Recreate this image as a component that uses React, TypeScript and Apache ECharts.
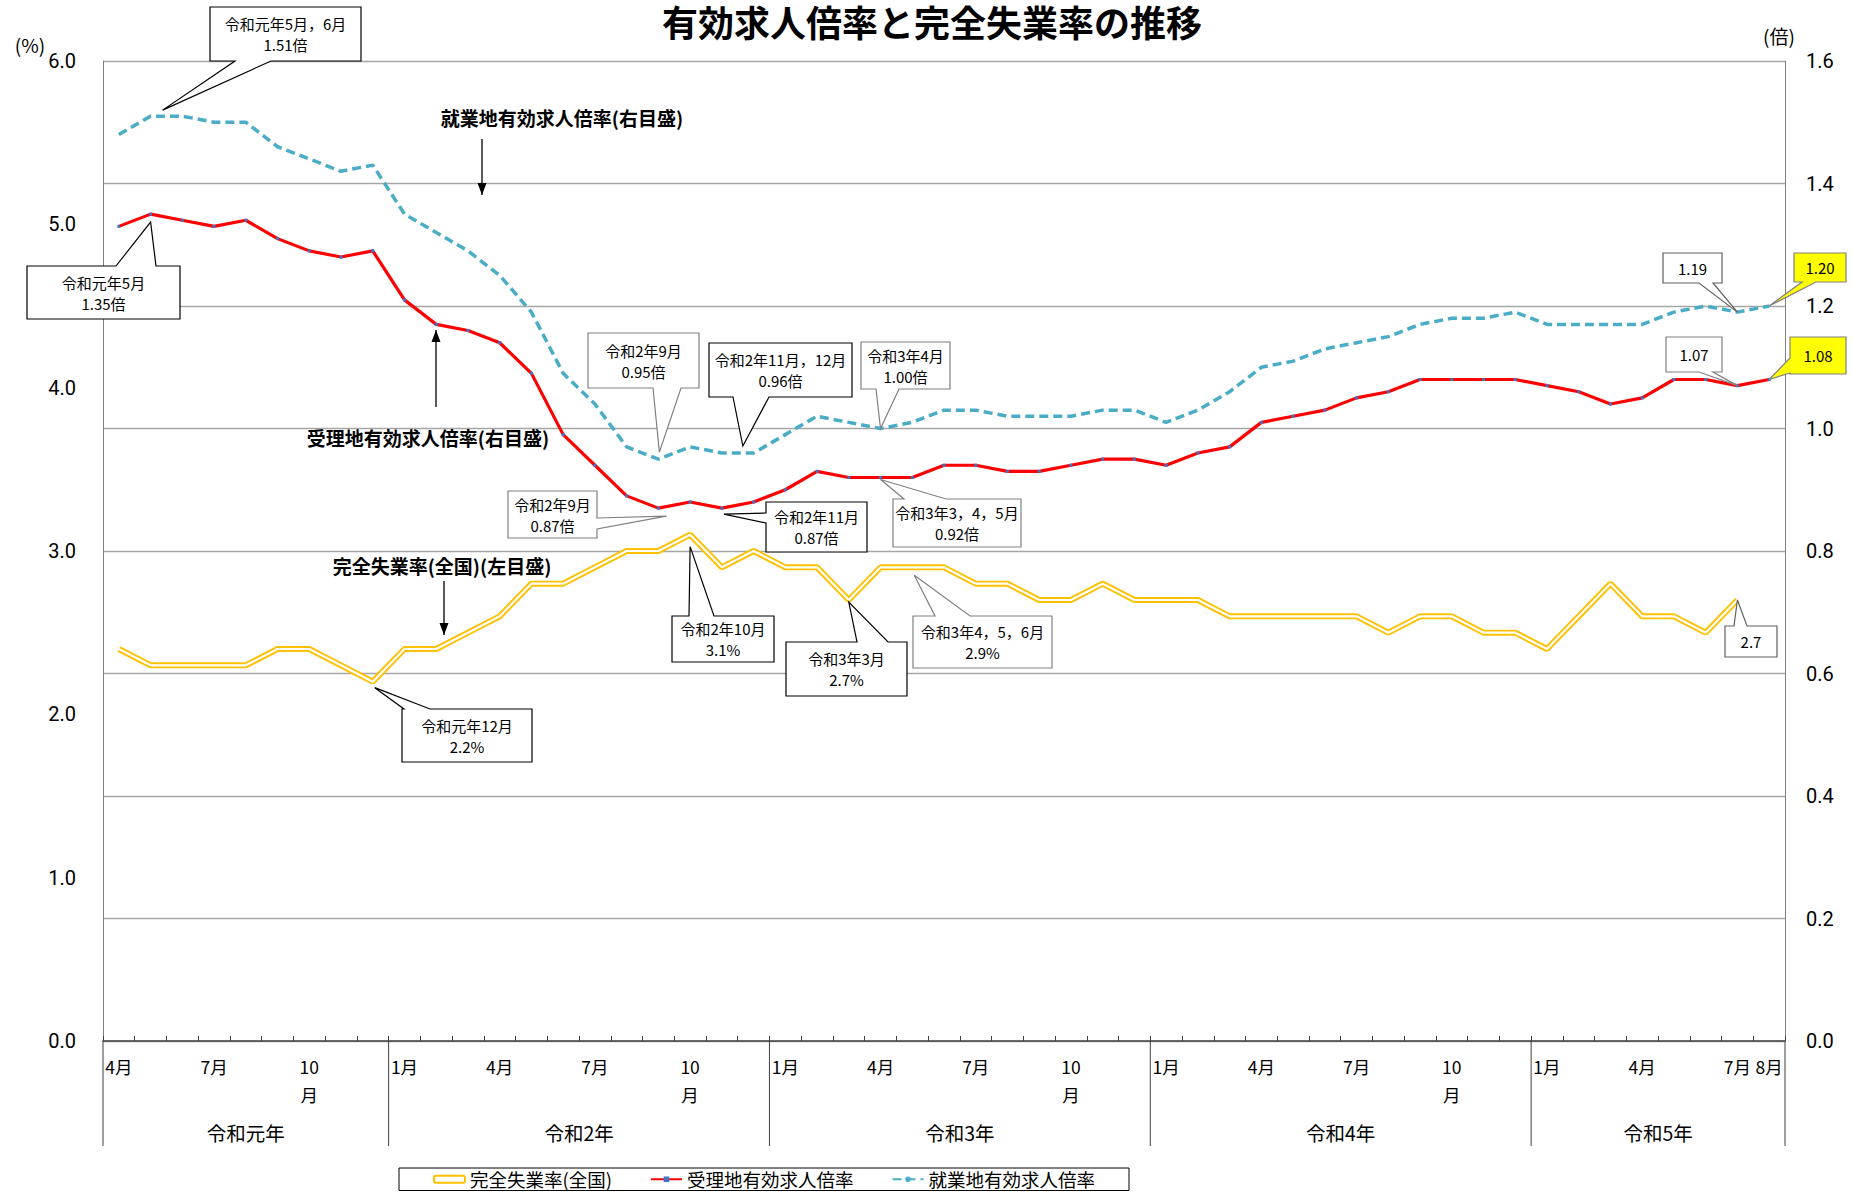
import React, { useEffect, useRef } from "react";
import * as echarts from "echarts";

// ---- data ----
const monthLabels = [
  "4月", "5月", "6月", "7月", "8月", "9月", "10月", "11月", "12月",
  "1月", "2月", "3月", "4月", "5月", "6月", "7月", "8月", "9月", "10月", "11月", "12月",
  "1月", "2月", "3月", "4月", "5月", "6月", "7月", "8月", "9月", "10月", "11月", "12月",
  "1月", "2月", "3月", "4月", "5月", "6月", "7月", "8月", "9月", "10月", "11月", "12月",
  "1月", "2月", "3月", "4月", "5月", "6月", "7月", "8月",
];
const yearNames = ["令和元年", "令和2年", "令和3年", "令和4年", "令和5年"];
const yearMonthCounts = [9, 12, 12, 12, 8];

// 完全失業率(全国) %  (left axis) — through R5 July
const unemployment = [
  2.4, 2.3, 2.3, 2.3, 2.3, 2.4, 2.4, 2.3, 2.2,
  2.4, 2.4, 2.5, 2.6, 2.8, 2.8, 2.9, 3.0, 3.0, 3.1, 2.9, 3.0,
  2.9, 2.9, 2.7, 2.9, 2.9, 2.9, 2.8, 2.8, 2.7, 2.7, 2.8, 2.7,
  2.7, 2.7, 2.6, 2.6, 2.6, 2.6, 2.6, 2.5, 2.6, 2.6, 2.5, 2.5,
  2.4, 2.6, 2.8, 2.6, 2.6, 2.5, 2.7,
];
// 受理地有効求人倍率 (right axis)
const ratioReceipt = [
  1.33, 1.35, 1.34, 1.33, 1.34, 1.31, 1.29, 1.28, 1.29,
  1.21, 1.17, 1.16, 1.14, 1.09, 0.99, 0.94, 0.89, 0.87, 0.88, 0.87, 0.88,
  0.90, 0.93, 0.92, 0.92, 0.92, 0.94, 0.94, 0.93, 0.93, 0.94, 0.95, 0.95,
  0.94, 0.96, 0.97, 1.01, 1.02, 1.03, 1.05, 1.06, 1.08, 1.08, 1.08, 1.08,
  1.07, 1.06, 1.04, 1.05, 1.08, 1.08, 1.07, 1.08,
];
// 就業地有効求人倍率 (right axis)
const ratioWorkplace = [
  1.48, 1.51, 1.51, 1.50, 1.50, 1.46, 1.44, 1.42, 1.43,
  1.35, 1.32, 1.29, 1.25, 1.19, 1.09, 1.04, 0.97, 0.95, 0.97, 0.96, 0.96,
  0.99, 1.02, 1.01, 1.00, 1.01, 1.03, 1.03, 1.02, 1.02, 1.02, 1.03, 1.03,
  1.01, 1.03, 1.06, 1.10, 1.11, 1.13, 1.14, 1.15, 1.17, 1.18, 1.18, 1.19,
  1.17, 1.17, 1.17, 1.17, 1.19, 1.20, 1.19, 1.20,
];

const seriesNames = ["完全失業率(全国)", "受理地有効求人倍率", "就業地有効求人倍率"];
const shownMonths = ["1月", "4月", "7月", "10月"];

// ---- annotation layout (series index: 0 yellow, 2 red, 3 blue) ----
type Callout = {
  text: string; s: number; i: number; dx: number; dy: number;
  x: number; y: number; w: number; h: number;
  edge: "top" | "bottom" | "left" | "right"; a: number; b: number;
  fill?: string; stroke?: string;
};
const callouts: Callout[] = [
  { text: "令和元年5月，6月\n1.51倍", s: 3, i: 1, dx: 12, dy: -6, x: 210, y: 7, w: 151, h: 54, edge: "bottom", a: 25, b: 61, stroke: "#000" },
  { text: "令和元年5月\n1.35倍", s: 2, i: 1, dx: 0, dy: 8, x: 27, y: 266, w: 153, h: 53, edge: "top", a: 89, b: 129, stroke: "#000" },
  { text: "令和元年12月\n2.2%", s: 0, i: 8, dx: 2, dy: 6, x: 402, y: 709, w: 130, h: 53, edge: "top", a: 2, b: 28, stroke: "#000" },
  { text: "令和2年9月\n0.95倍", s: 3, i: 17, dx: 1, dy: -7, x: 588, y: 333, w: 111, h: 55, edge: "bottom", a: 65, b: 93, stroke: "#808080" },
  { text: "令和2年11月，12月\n0.96倍", s: 3, i: 19, dx: 21, dy: -7, x: 709, y: 343, w: 143, h: 54, edge: "bottom", a: 24, b: 60, stroke: "#000" },
  { text: "令和3年4月\n1.00倍", s: 3, i: 24, dx: 0, dy: 0, x: 861, y: 342, w: 89, h: 47, edge: "bottom", a: 15, b: 38, stroke: "#808080" },
  { text: "令和2年9月\n0.87倍", s: 2, i: 17, dx: 8, dy: 8, x: 508, y: 491, w: 89, h: 47, edge: "right", a: 27, b: 38, stroke: "#808080" },
  { text: "令和2年11月\n0.87倍", s: 2, i: 19, dx: 2, dy: 6, x: 766, y: 502, w: 101, h: 50, edge: "left", a: 11, b: 21, stroke: "#000" },
  { text: "令和3年3，4，5月\n0.92倍", s: 2, i: 24, dx: 0, dy: 2, x: 893, y: 499, w: 128, h: 48, edge: "top", a: 11, b: 53, stroke: "#808080" },
  { text: "令和2年10月\n3.1%", s: 0, i: 18, dx: 0, dy: 12, x: 672, y: 616, w: 102, h: 46, edge: "top", a: 17, b: 42, stroke: "#000" },
  { text: "令和3年3月\n2.7%", s: 0, i: 23, dx: 0, dy: 2, x: 786, y: 642, w: 121, h: 54, edge: "top", a: 71, b: 102, stroke: "#000" },
  { text: "令和3年4，5，6月\n2.9%", s: 0, i: 25, dx: 2, dy: 8, x: 913, y: 616, w: 139, h: 52, edge: "top", a: 22, b: 57, stroke: "#808080" },
  { text: "1.19", s: 3, i: 51, dx: 0, dy: 0, x: 1663, y: 253, w: 59, h: 30, edge: "bottom", a: 36, b: 50, stroke: "#606060" },
  { text: "1.20", s: 3, i: 52, dx: 0, dy: 0, x: 1794, y: 253, w: 52, h: 29, edge: "bottom", a: 8, b: 22, fill: "#FFFF00", stroke: "#808080" },
  { text: "1.07", s: 2, i: 51, dx: 0, dy: 0, x: 1666, y: 337, w: 56, h: 35, edge: "bottom", a: 33, b: 47, stroke: "#808080" },
  { text: "1.08", s: 2, i: 52, dx: 0, dy: 0, x: 1790, y: 337, w: 56, h: 37, edge: "left", a: 21, b: 36, fill: "#FFFF00", stroke: "#808080" },
  { text: "2.7", s: 0, i: 51, dx: 0, dy: 0, x: 1725, y: 626, w: 52, h: 31, edge: "top", a: 9, b: 22, stroke: "#606060" },
];

const seriesLabels = [
  { text: "就業地有効求人倍率(右目盛)", x: 562, y: 117, ax: 482, ay1: 139, ay2: 195, dir: "down" },
  { text: "受理地有効求人倍率(右目盛)", x: 428, y: 437, ax: 436, ay1: 407, ay2: 330, dir: "up" },
  { text: "完全失業率(全国)(左目盛)", x: 442, y: 565, ax: 444, ay1: 581, ay2: 635, dir: "down" },
];

const FONT = "'Noto Sans CJK JP', 'Noto Sans', sans-serif";

function calloutPoints(c: Callout, tip: number[]) {
  const { x, y, w, h, a, b } = c;
  const TL = [x, y], TR = [x + w, y], BR = [x + w, y + h], BL = [x, y + h];
  switch (c.edge) {
    case "top": return [TL, [x + a, y], tip, [x + b, y], TR, BR, BL];
    case "right": return [TL, TR, [x + w, y + a], tip, [x + w, y + b], BR, BL];
    case "bottom": return [TL, TR, BR, [x + b, y + h], tip, [x + a, y + h], BL];
    default: return [TL, TR, BR, BL, [x, y + b], tip, [x, y + a]];
  }
}

export default function App() {
  const ref = useRef<HTMLDivElement>(null);
  useEffect(() => {
    const chart = echarts.init(ref.current!, null, { renderer: "svg" });
    const lastIdx = monthLabels.length - 1;
    const option: any = {
      animation: false,
      backgroundColor: "#ffffff",
      textStyle: { fontFamily: FONT },
      grid: { left: 103, right: 68, top: 61, bottom: 154 },
      legend: {
        data: [
          { name: seriesNames[0], icon: "roundRect", itemStyle: { color: "#ffffff", borderColor: "#FFC000", borderWidth: 2 } },
          { name: seriesNames[1] },
          { name: seriesNames[2] },
        ],
        left: 399, top: 1168, orient: "horizontal",
        itemWidth: 31, itemHeight: 7, itemGap: 38,
        padding: [2, 34, 2, 34],
        borderColor: "#000", borderWidth: 1,
        textStyle: { fontSize: 18.5, color: "#000", fontFamily: FONT },
      },
      xAxis: {
        type: "category", data: monthLabels, boundaryGap: true,
        axisLine: { lineStyle: { color: "#404040", width: 1.5 } },
        axisTick: { show: true, inside: true, length: 5, interval: 0, lineStyle: { color: "#404040" } },
        axisLabel: {
          interval: (idx: number, v: string) => shownMonths.includes(v) || idx === lastIdx,
          formatter: (v: string) => (v === "10月" ? "10\n月" : v),
          fontSize: 17.5, color: "#000", margin: 11, lineHeight: 28, fontFamily: FONT,
        },
        splitLine: { show: false },
      },
      yAxis: [
        {
          type: "value", min: 0, max: 6, interval: 1, position: "left",
          axisLine: { show: true, lineStyle: { color: "#808080" } },
          axisTick: { show: false }, splitLine: { show: false },
          axisLabel: { formatter: (v: number) => v.toFixed(1), fontSize: 20, color: "#000", margin: 27, fontFamily: "Roboto, sans-serif" },
        },
        {
          type: "value", min: 0, max: 1.6, interval: 0.2, position: "right",
          axisLine: { show: true, lineStyle: { color: "#808080" } },
          axisTick: { show: false },
          splitLine: { show: true, lineStyle: { color: "#a6a6a6", width: 1.3 } },
          axisLabel: { formatter: (v: number) => v.toFixed(1), fontSize: 20, color: "#000", margin: 21, fontFamily: "Roboto, sans-serif" },
        },
      ],
      series: [
        {
          name: seriesNames[0], type: "line", yAxisIndex: 0, data: unemployment,
          symbol: "none", lineStyle: { color: "#FFC000", width: 6 }, itemStyle: { color: "#FFC000" }, z: 2,
        },
        {
          name: "_inner", type: "line", yAxisIndex: 0, data: unemployment,
          symbol: "none", lineStyle: { color: "#ffffff", width: 2.2 }, itemStyle: { color: "#ffffff" }, z: 3, silent: true,
        },
        {
          name: seriesNames[1], type: "line", yAxisIndex: 1, data: ratioReceipt,
          symbol: "rect", symbolSize: 3, showSymbol: true,
          itemStyle: { color: "#4472C4" }, lineStyle: { color: "#FF0000", width: 3.2 }, z: 4,
        },
        {
          name: seriesNames[2], type: "line", yAxisIndex: 1, data: ratioWorkplace,
          symbol: "none", itemStyle: { color: "#4BACC6" },
          lineStyle: { color: "#4BACC6", width: 3.5, type: [9, 5] }, z: 4,
        },
      ],
    };
    chart.setOption(option);

    const seriesData: Record<number, number[]> = { 0: unemployment, 2: ratioReceipt, 3: ratioWorkplace };
    const pt = (s: number, i: number) => chart.convertToPixel({ seriesIndex: s }, [i, seriesData[s][i]]) as number[];
    const xAt = (i: number) => chart.convertToPixel({ xAxisIndex: 0 }, i) as number;
    const bw = xAt(1) - xAt(0);
    const axisY = chart.convertToPixel({ yAxisIndex: 0 }, 0) as number;

    const g: any[] = [];
    // title and unit labels
    g.push({ type: "text", x: 932, y: 21, style: { text: "有効求人倍率と完全失業率の推移", font: `bold 36px ${FONT}`, fill: "#000", textAlign: "center", textVerticalAlign: "middle" } });
    g.push({ type: "text", x: 30, y: 44, style: { text: "(%)", font: `19px ${FONT}`, fill: "#000", textAlign: "center", textVerticalAlign: "middle" } });
    g.push({ type: "text", x: 1779, y: 35, style: { text: "(倍)", font: `19px ${FONT}`, fill: "#000", textAlign: "center", textVerticalAlign: "middle" } });

    // year separators and labels
    let start = 0;
    const seps: number[] = [xAt(0) - bw / 2];
    yearMonthCounts.forEach((n, k) => {
      const end = start + n - 1;
      seps.push(xAt(end) + bw / 2);
      const cx = (xAt(start) + xAt(end)) / 2;
      g.push({ type: "text", x: cx, y: 1132, style: { text: yearNames[k], font: `19.5px ${FONT}`, fill: "#000", textAlign: "center", textVerticalAlign: "middle" } });
      start = end + 1;
    });
    seps.forEach((sx) => {
      g.push({ type: "line", shape: { x1: sx, y1: axisY, x2: sx, y2: 1146 }, style: { stroke: "#404040", lineWidth: 1 } });
    });

    // series name labels with arrows
    seriesLabels.forEach((l) => {
      g.push({ type: "text", x: l.x, y: l.y, z: 20, style: { text: l.text, font: `bold 19px ${FONT}`, fill: "#000", textAlign: "center", textVerticalAlign: "middle" } });
      g.push({ type: "line", z: 20, shape: { x1: l.ax, y1: l.ay1, x2: l.ax, y2: l.ay2 }, style: { stroke: "#000", lineWidth: 1.3 } });
      const hy = l.ay2;
      const back = l.dir === "down" ? hy - 12 : hy + 12;
      g.push({ type: "polygon", z: 20, shape: { points: [[l.ax, hy], [l.ax - 4.5, back], [l.ax + 4.5, back]] }, style: { fill: "#000" } });
    });

    // callouts
    callouts.forEach((c) => {
      const p = pt(c.s, c.i);
      const tip = [p[0] + c.dx, p[1] + c.dy];
      g.push({ type: "polygon", z: 30, shape: { points: calloutPoints(c, tip) }, style: { fill: c.fill || "#ffffff", stroke: c.stroke || "#000", lineWidth: 1.2 } });
      g.push({ type: "text", z: 31, x: c.x + c.w / 2, y: c.y + c.h / 2, style: { text: c.text, font: `15px ${FONT}`, lineHeight: 21, fill: "#000", textAlign: "center", textVerticalAlign: "middle" } });
    });

    chart.setOption({ graphic: g });
    return () => chart.dispose();
  }, []);
  return <div ref={ref} style={{ position: "absolute", left: 0, top: 0, width: 1853, height: 1195 }} />;
}
